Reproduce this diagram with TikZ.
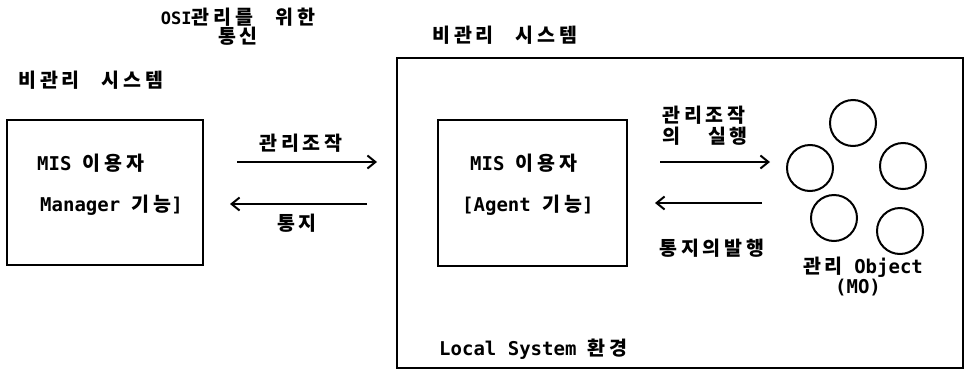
\documentclass[tikz,border=0pt]{standalone}
\usepackage{fontspec}
\setmainfont{DejaVu Sans Mono}
\newfontfamily\korfont[LetterSpace=20]{Noto Sans CJK KR}
\usetikzlibrary{arrows,arrows.meta}
\newcommand\ko[1]{{\korfont\fontsize{19.5}{17}\selectfont #1}}

\begin{document}
\begin{tikzpicture}[x=1pt,y=-1pt,
  every node/.style={font=\bfseries\fontsize{19}{17}\selectfont, inner sep=0pt},
  sysbox/.style={draw, line width=2pt},
  objcirc/.style={circle, draw, line width=2pt, minimum size=46pt},
  flow/.style={-{Straight Barb[length=8pt,width=13pt]}, line width=2pt}]
\useasboundingbox (0,0) rectangle (966,370);

\node[align=center] (title) at (238,27) {\fontsize{17}{18}\selectfont OSI\ko{관리를\hspace{22pt}위한}\\\ko{통신}};

\node[anchor=west] (mgrsys) at (18,80) {\ko{비관리\hspace{22pt}시스템}};
\node[sysbox, minimum width=196pt, minimum height=145pt] (mgr) at (105,192.5) {};
\node[anchor=west] (mgruser) at (37,163) {MIS \ko{이용자}};
\node[anchor=west] (mgrrole) at (40,205) {Manager \ko{기능}]};

\coordinate (opA) at (237,162);
\coordinate (opB) at (377,162);
\draw[flow] (opA) -- (opB);
\node (oplabel) at (301,143) {\ko{관리조작}};
\coordinate (ntA) at (367,204);
\coordinate (ntB) at (230,204);
\draw[flow] (ntA) -- (ntB);
\node (ntlabel) at (297,223) {\ko{통지}};

\node[anchor=west] (agsys) at (432,35) {\ko{비관리\hspace{22pt}시스템}};
\node[sysbox, minimum width=566pt, minimum height=310pt] (local) at (680,213) {};
\node[sysbox, minimum width=189pt, minimum height=146pt] (agent) at (532.5,193) {};
\node[anchor=west] (aguser) at (470,163) {MIS \ko{이용자}};
\node[anchor=west] (agrole) at (462,205) {[Agent \ko{기능}]};
\node[anchor=west] (localenv) at (439,349) {Local System \ko{환경}};

\coordinate (exA) at (660,162);
\coordinate (exB) at (770,162);
\draw[flow] (exA) -- (exB);
\node[anchor=west] (exlabel) at (662,115) {\ko{관리조작}};
\node[anchor=west] (exlabelb) at (662,136) {\ko{의\hspace{28pt}실행}};
\coordinate (rpA) at (762,203);
\coordinate (rpB) at (655,203);
\draw[flow] (rpA) -- (rpB);
\node[anchor=west] (rplabel) at (659,248) {\ko{통지의발행}};

\foreach \cx/\cy [count=\i] in {853/123, 810/168, 903/166, 834/218, 900/231}
  \node[objcirc] (mo\i) at (\cx,\cy) {};
\node (molabel) at (863,267) {\ko{관리} Object};
\node (molabelb) at (858,288) {(MO)};

\end{tikzpicture}
\end{document}
